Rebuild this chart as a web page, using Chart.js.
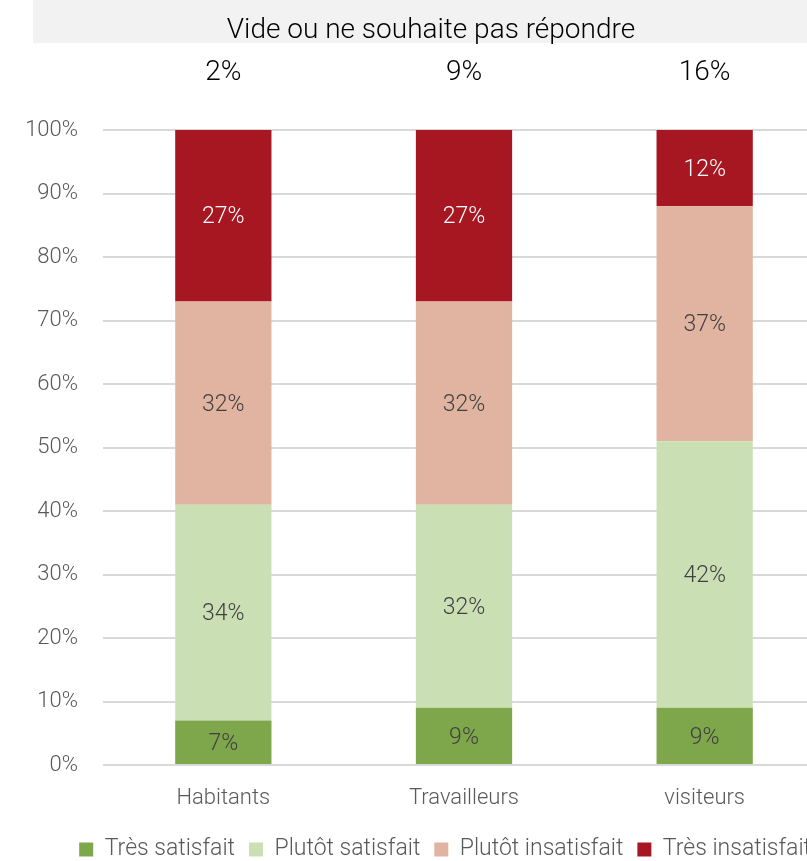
<!DOCTYPE html>
<html>
<head>
<meta charset="utf-8">
<script src="https://cdn.jsdelivr.net/npm/chart.js@4/dist/chart.umd.min.js"></script>
<style>
  html, body { margin: 0; padding: 0; background: #fff; }
  #wrap { width: 807px; height: 861px; overflow: hidden; }
</style>
</head>
<body>
<div id="wrap"><canvas id="myChart" width="825" height="861"></canvas></div>
<script>
const categories = ['Habitants', 'Travailleurs', 'visiteurs'];
const seriesNames = ['Très satisfait', 'Plutôt satisfait', 'Plutôt insatisfait', 'Très insatisfait'];
const tresSatisfait = [7, 9, 9];
const plutotSatisfait = [34, 32, 42];
const plutotInsatisfait = [32, 32, 37];
const tresInsatisfait = [27, 27, 12];
const videValues = [2, 9, 16];
const videTitle = 'Vide ou ne souhaite pas répondre';
const yTicks = [0, 10, 20, 30, 40, 50, 60, 70, 80, 90, 100];

const FONT = 'Roboto, sans-serif';
const colors = ['#7EA64B', '#CAE0B4', '#E0B4A0', '#A61722'];
const labelColors = ['#404040', '#404040', '#404040', '#ffffff'];

// gray title box + values above the bars
const topPlugin = {
    id: 'topPlugin',
    beforeDraw(chart) {
        const ctx = chart.ctx;
        const x = chart.scales.x;
        ctx.save();
        ctx.fillStyle = '#f2f2f2';
        ctx.fillRect(33, 0, chart.width - 33, 43);
        ctx.fillStyle = '#000';
        ctx.font = '300 28px ' + FONT;
        ctx.textAlign = 'center';
        ctx.textBaseline = 'alphabetic';
        ctx.fillText(videTitle, 431, 38);
        videValues.forEach((v, i) => {
            ctx.fillText(v + '%', x.getPixelForValue(i), 80);
        });
        ctx.restore();
    }
};

// value labels in the middle of each segment
const barLabels = {
    id: 'barLabels',
    afterDatasetsDraw(chart) {
        const ctx = chart.ctx;
        ctx.save();
        ctx.font = '300 23px ' + FONT;
        ctx.textAlign = 'center';
        ctx.textBaseline = 'middle';
        chart.data.datasets.forEach((ds, di) => {
            const meta = chart.getDatasetMeta(di);
            ctx.fillStyle = labelColors[di];
            meta.data.forEach((bar, i) => {
                ctx.fillText(ds.data[i] + '%', bar.x, (bar.y + bar.base) / 2 + 2);
            });
        });
        ctx.restore();
    }
};

const seriesData = [tresSatisfait, plutotSatisfait, plutotInsatisfait, tresInsatisfait];

new Chart(document.getElementById('myChart').getContext('2d'), {
    type: 'bar',
    data: {
        labels: categories,
        datasets: seriesNames.map((name, i) => ({
            label: name,
            data: seriesData[i],
            backgroundColor: colors[i],
            barPercentage: 0.4,
            categoryPercentage: 1
        }))
    },
    options: {
        responsive: false,
        animation: false,
        layout: { padding: { top: 130, right: 0, bottom: -10, left: 0 } },
        scales: {
            x: {
                stacked: true,
                grid: { display: false },
                border: { display: false },
                ticks: { color: '#595959', font: { family: FONT, size: 22, weight: '300' }, padding: 12 },
                afterFit(scale) { scale.height = 59; }
            },
            y: {
                stacked: true,
                min: 0,
                max: 100,
                afterBuildTicks(scale) { scale.ticks = yTicks.map(v => ({ value: v })); },
                grid: { color: '#d9d9d9', lineWidth: 2, drawTicks: false },
                border: { display: false },
                ticks: {
                    color: '#595959',
                    font: { family: FONT, size: 22, weight: '300' },
                    padding: 25,
                    callback: v => v + '%'
                },
                afterFit(scale) { scale.width = 103; }
            }
        },
        plugins: {
            legend: {
                position: 'bottom',
                align: 'end',
                labels: {
                    boxWidth: 14,
                    boxHeight: 14,
                    padding: 14,
                    color: '#595959',
                    font: { family: FONT, size: 23, weight: '300' }
                }
            },
            tooltip: { enabled: false }
        }
    },
    plugins: [topPlugin, barLabels]
});
</script>
</body>
</html>
